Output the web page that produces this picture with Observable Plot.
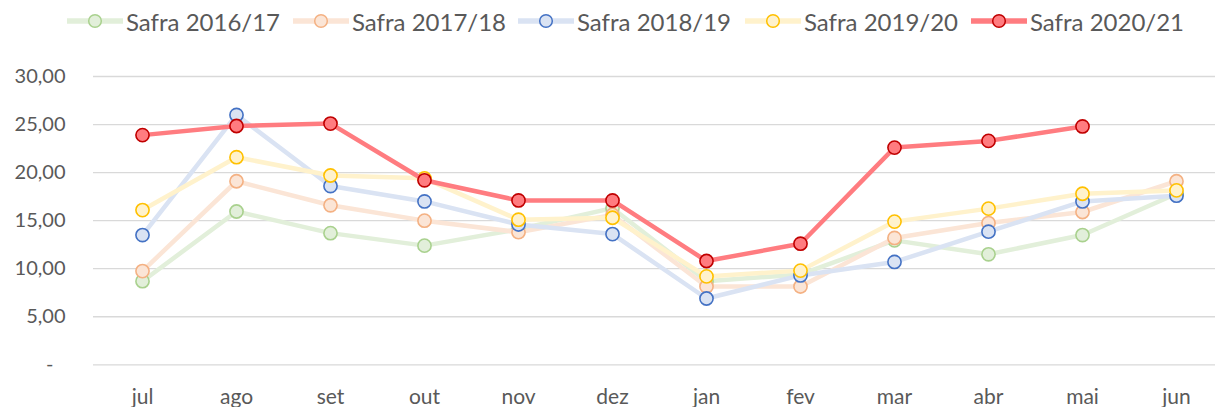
<!DOCTYPE html>
<html>
<head>
<meta charset="utf-8">
<script src="https://cdn.jsdelivr.net/npm/d3@7"></script>
<script src="https://cdn.jsdelivr.net/npm/@observablehq/plot@0.6"></script>
<style>
  html, body { margin: 0; padding: 0; background: #fff; }
  body { width: 1215px; height: 407px; overflow: hidden; font-family: Lato, sans-serif; }
  #legend { position: relative; height: 50px; width: 1215px; }
  .item { position: absolute; top: 0; height: 42px; display: flex; align-items: center; }
  .item span { font-size: 24px; color: #595959; margin-left: 3px; white-space: nowrap; }
  #chart svg { display: block; }
</style>
</head>
<body>
<div id="legend"></div>
<div id="chart"></div>
<script>
const months = ["jul","ago","set","out","nov","dez","jan","fev","mar","abr","mai","jun"];
const seriesNames = ["Safra 2016/17","Safra 2017/18","Safra 2018/19","Safra 2019/20","Safra 2020/21"];
const safra1617 = [8.7, 15.95, 13.7, 12.4, 14.1, 16.3, 8.7, 9.4, 12.95, 11.5, 13.5, 17.8];
const safra1718 = [9.75, 19.1, 16.6, 15.0, 13.8, 15.6, 8.15, 8.15, 13.2, 14.75, 15.9, 19.1];
const safra1819 = [13.5, 26.0, 18.6, 17.0, 14.6, 13.6, 6.9, 9.3, 10.7, 13.85, 17.0, 17.6];
const safra1920 = [16.1, 21.6, 19.7, 19.4, 15.1, 15.3, 9.2, 9.8, 14.9, 16.25, 17.8, 18.15];
const safra2021 = [23.9, 24.85, 25.1, 19.2, 17.1, 17.1, 10.8, 12.6, 22.6, 23.3, 24.8, null];
const yTicks = [0, 5, 10, 15, 20, 25, 30];

const seriesValues = [safra1617, safra1718, safra1819, safra1920, safra2021];
const lineColors = ["#e2efda", "#fbe5d6", "#dae3f3", "#fff2cc", "#ff7c80"];
const markerStroke = ["#a9d18e", "#f4b183", "#4472c4", "#ffc000", "#c00000"];
const markerFill = ["#e2efda", "#fbe5d6", "#dae3f3", "#fff2cc", "#ff7c80"];

// Legend
const legend = document.getElementById("legend");
const legendLeft = [67, 293, 518, 745, 971];
seriesNames.forEach((name, i) => {
  const item = document.createElement("div");
  item.className = "item";
  item.style.left = legendLeft[i] + "px";
  item.innerHTML = `<svg width="56" height="24"><line x1="0" x2="56" y1="12" y2="12" stroke="${lineColors[i]}" stroke-width="5.5" stroke-linecap="round"/><circle cx="28" cy="12" r="6.3" fill="${markerFill[i]}" stroke="${markerStroke[i]}" stroke-width="1.5"/></svg><span>${name}</span>`;
  legend.appendChild(item);
});

const marks = [
  Plot.ruleY(yTicks, {stroke: "#d9d9d9", strokeWidth: 1.3})
];
seriesValues.forEach((vals, i) => {
  const data = months.map((m, j) => ({month: m, value: vals[j], series: seriesNames[i]})).filter(d => d.value != null);
  marks.push(Plot.line(data, {x: "month", y: "value", stroke: lineColors[i], strokeWidth: 4.5, strokeLinejoin: "round", strokeLinecap: "round"}));
  marks.push(Plot.dot(data, {x: "month", y: "value", r: 6.6, fill: markerFill[i], stroke: markerStroke[i], strokeWidth: 1.6}));
});
marks.push(Plot.axisY(yTicks.filter(d => d !== 0), {tickSize: 0, tickPadding: 28, fontSize: 20, fill: "#595959", tickFormat: d => d.toFixed(2).replace(".", ","), label: null}));
marks.push(Plot.axisY([0], {tickSize: 0, tickPadding: 40, fontSize: 20, fill: "#595959", tickFormat: () => "-", label: null}));
marks.push(Plot.axisX({tickSize: 0, tickPadding: 24, fontSize: 21, fill: "#595959", label: null}));

const chart = Plot.plot({
  width: 1215,
  height: 357,
  marginTop: 26,
  marginBottom: 42.7,
  marginLeft: 93,
  marginRight: 0,
  style: {fontFamily: "Lato, sans-serif", color: "#595959", background: "#fff"},
  x: {type: "point", domain: months, range: [141, 1177], padding: 0},
  y: {domain: [0, 30]},
  marks
});
document.getElementById("chart").appendChild(chart);
</script>
</body>
</html>
